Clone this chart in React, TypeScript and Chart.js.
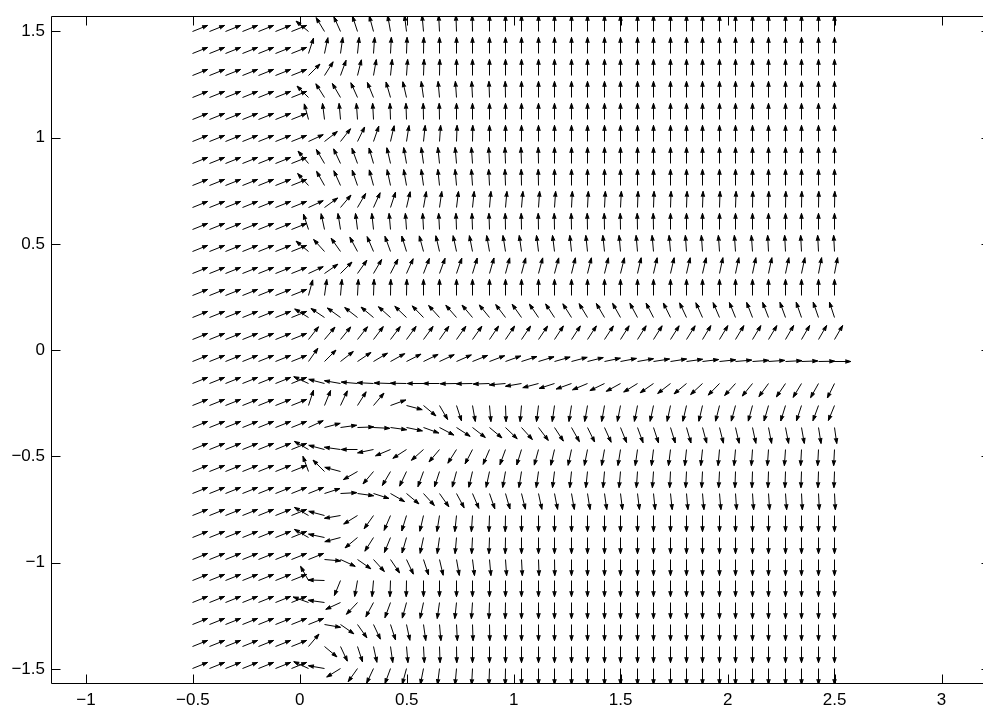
import { useEffect, useRef } from "react";
import { Chart, registerables } from "chart.js";

Chart.register(...registerables);

// Grid of arrow tails (x: 40 columns, y: 30 rows, bottom to top)
const X_GRID = [
  -0.5, -0.4231, -0.3462, -0.2692, -0.1923, -0.1154, -0.0385, 0.0385, 0.1154, 0.1923,
  0.2692, 0.3462, 0.4231, 0.5, 0.5769, 0.6538, 0.7308, 0.8077, 0.8846, 0.9615,
  1.0385, 1.1154, 1.1923, 1.2692, 1.3462, 1.4231, 1.5, 1.5769, 1.6538, 1.7308,
  1.8077, 1.8846, 1.9615, 2.0385, 2.1154, 2.1923, 2.2692, 2.3462, 2.4231, 2.5,
];
const Y_GRID = [
  -1.5, -1.3966, -1.2931, -1.1897, -1.0862, -0.9828, -0.8793, -0.7759, -0.6724, -0.569,
  -0.4655, -0.3621, -0.2586, -0.1552, -0.0517, 0.0517, 0.1552, 0.2586, 0.3621, 0.4655,
  0.569, 0.6724, 0.7759, 0.8793, 0.9828, 1.0862, 1.1897, 1.2931, 1.3966, 1.5,
];

// Arrow directions (degrees, counter-clockwise from +x), one row per Y_GRID value
const ANGLES: number[][] = [
  [22, 22, 22, 22, 22, 22, 22, 155, 170, 212, 235, 245, 250, 255, 259, 263, 265, 267, 268, 269, 270, 270, 270, 270, 270, 270, 270, 270, 270, 270, 270, 270, 270, 270, 270, 270, 270, 270, 270, 270],
  [22, 22, 22, 22, 22, 22, 22, 50, -40, -65, -72, -78, -82, -85, -87, -88, -89, -90, -90, -90, -90, -90, -90, -90, -90, -90, -90, -90, -90, -90, -90, -90, -90, -90, -90, -90, -90, -90, -90, -90],
  [22, 22, 22, 22, 22, 22, 22, 22, -10, -35, -55, -65, -72, -78, -82, -85, -87, -88, -89, -90, -90, -90, -90, -90, -90, -90, -90, -90, -90, -90, -90, -90, -90, -90, -90, -90, -90, -90, -90, -90],
  [22, 22, 22, 22, 22, 22, 22, 160, 172, 205, 227, 242, 250, 255, 258, 262, 264, 266, 268, 269, 270, 270, 270, 270, 270, 270, 270, 270, 270, 270, 270, 270, 270, 270, 270, 270, 270, 270, 270, 270],
  [22, 22, 22, 22, 22, 22, 22, 119, 178, 248, 260, 265, 268, 269, 270, 270, 270, 270, 270, 270, 270, 270, 270, 270, 270, 270, 270, 270, 270, 270, 270, 270, 270, 270, 270, 270, 270, 270, 270, 270],
  [22, 22, 22, 22, 22, 22, 22, 22, -5, -25, -35, -48, -56, -65, -72, -77, -80, -83, -85, -86, -87, -88, -89, -90, -90, -90, -90, -90, -90, -90, -90, -90, -90, -90, -90, -90, -90, -90, -90, -90],
  [22, 22, 22, 22, 22, 22, 22, 150, 168, 195, 220, 238, 248, 254, 258, 262, 265, 267, 268, 269, 270, 270, 270, 270, 270, 270, 270, 270, 270, 270, 270, 270, 270, 270, 270, 270, 270, 270, 270, 270],
  [22, 22, 22, 22, 22, 22, 22, 150, 165, 190, 212, 235, 247, 253, 257, 261, 264, 266, 268, 269, 270, 270, 270, 270, 270, 270, 270, 270, 270, 270, 270, 270, 270, 270, 270, 270, 270, 270, 270, 270],
  [22, 22, 22, 22, 22, 22, 22, 22, 18, 3, -8, -18, -30, -40, -48, -55, -62, -67, -71, -74, -76, -78, -79, -80, -81, -82, -83, -83, -84, -84, -85, -85, -85, -86, -86, -86, -86, -87, -87, -87],
  [22, 22, 22, 22, 22, 22, 22, 110, 135, 165, 210, 230, 240, 245, 250, 252, 255, 257, 258, 260, 261, 262, 263, 264, 264, 265, 265, 266, 266, 267, 267, 267, 267, 268, 268, 268, 268, 268, 268, 268],
  [22, 22, 22, 22, 22, 22, 22, 150, 165, 172, 180, 192, 203, 213, 222, 230, 238, 243, 247, 250, 253, 255, 257, 258, 259, 260, 261, 262, 263, 263, 264, 264, 265, 265, 266, 266, 266, 267, 267, 267],
  [22, 22, 22, 22, 22, 22, 22, 25, 15, 8, 2, -3, -8, -12, -20, -28, -33, -38, -40, -44, -48, -53, -57, -61, -64, -66, -68, -70, -72, -73, -74, -75, -76, -77, -78, -79, -79, -80, -81, -82],
  [22, 22, 22, 22, 22, 22, 22, 72, 68, 65, 58, 50, 20, -15, -40, -60, -72, -80, -85, -88, -95, -97, -98, -99, -100, -100, -101, -101, -102, -102, -103, -103, -104, -105, -105, -106, -107, -108, -110, -112],
  [22, 22, 22, 22, 22, 22, 22, 155, 165, 170, 175, 177, 178, 179, 180, 180, 181, 181, 182, 185, 190, 195, 198, 200, 203, 206, 209, 212, 215, 218, 220, 223, 226, 228, 231, 234, 236, 239, 241, 244],
  [22, 22, 22, 22, 22, 22, 22, 55, 45, 38, 34, 31, 29, 27, 26, 25, 24, 22, 21, 20, 18, 17, 16, 15, 14, 12, 11, 10, 9, 9, 8, 7, 6, 5, 4, 4, 3, 2, 1, 0],
  [22, 22, 22, 22, 22, 22, 22, 52, 50, 51, 52, 53, 53, 54, 54, 55, 55, 55, 56, 56, 56, 56, 57, 57, 57, 57, 58, 58, 58, 58, 58, 59, 59, 59, 59, 59, 60, 60, 60, 60],
  [22, 22, 22, 22, 22, 22, 22, 148, 146, 144, 142, 140, 138, 136, 134, 132, 131, 130, 129, 127, 125, 124, 123, 122, 121, 120, 119, 118, 117, 116, 115, 114, 113, 112, 111, 111, 110, 109, 109, 108],
  [22, 22, 22, 22, 22, 22, 22, 75, 82, 85, 87, 88, 89, 89, 90, 90, 90, 90, 90, 90, 90, 90, 90, 90, 90, 90, 90, 90, 90, 90, 90, 90, 90, 90, 90, 90, 90, 90, 90, 90],
  [22, 22, 22, 22, 22, 22, 22, 25, 35, 45, 55, 60, 63, 66, 69, 70, 71, 73, 74, 75, 75, 75, 75, 76, 76, 76, 76, 77, 77, 77, 77, 77, 78, 78, 78, 78, 78, 78, 79, 79],
  [22, 22, 22, 22, 22, 22, 22, 140, 132, 125, 118, 113, 110, 107, 105, 103, 102, 101, 100, 99, 98, 97, 97, 96, 96, 96, 95, 95, 95, 95, 94, 94, 94, 94, 94, 93, 93, 93, 93, 93],
  [22, 22, 22, 22, 22, 22, 22, 108, 102, 99, 97, 96, 95, 94, 93, 93, 92, 92, 92, 91, 91, 91, 91, 91, 91, 91, 91, 91, 91, 90, 90, 90, 90, 90, 90, 90, 90, 90, 90, 90],
  [22, 22, 22, 22, 22, 22, 22, 25, 36, 50, 60, 66, 72, 77, 80, 82, 83, 84, 85, 85, 85, 86, 86, 87, 87, 87, 87, 88, 88, 88, 88, 88, 88, 88, 89, 89, 89, 89, 89, 89],
  [22, 22, 22, 22, 22, 22, 22, 132, 119, 114, 109, 105, 102, 100, 98, 96, 95, 94, 93, 92, 91, 91, 90, 90, 90, 90, 90, 90, 90, 90, 90, 90, 90, 90, 90, 90, 90, 90, 90, 90],
  [22, 22, 22, 22, 22, 22, 22, 130, 120, 115, 110, 106, 103, 100, 98, 96, 95, 94, 93, 92, 92, 91, 90, 90, 90, 90, 90, 90, 90, 90, 90, 90, 90, 90, 90, 90, 90, 90, 90, 90],
  [22, 22, 22, 22, 22, 22, 22, 25, 38, 52, 64, 71, 77, 81, 84, 86, 88, 89, 90, 90, 90, 90, 90, 90, 90, 90, 90, 90, 90, 90, 90, 90, 90, 90, 90, 90, 90, 90, 90, 90],
  [22, 22, 22, 22, 22, 22, 22, 105, 97, 95, 94, 93, 92, 92, 91, 91, 90, 90, 90, 90, 90, 90, 90, 90, 90, 90, 90, 90, 90, 90, 90, 90, 90, 90, 90, 90, 90, 90, 90, 90],
  [22, 22, 22, 22, 22, 22, 22, 135, 122, 120, 114, 112, 106, 103, 98, 95, 94, 93, 92, 91, 90, 90, 90, 90, 90, 90, 90, 90, 90, 90, 90, 90, 90, 90, 90, 90, 90, 90, 90, 90],
  [22, 22, 22, 22, 22, 22, 22, 45, 58, 70, 76, 80, 84, 86, 88, 89, 90, 90, 90, 90, 90, 90, 90, 90, 90, 90, 90, 90, 90, 90, 90, 90, 90, 90, 90, 90, 90, 90, 90, 90],
  [22, 22, 22, 22, 22, 22, 22, 72, 78, 82, 84, 86, 87, 88, 89, 90, 90, 90, 90, 90, 90, 90, 90, 90, 90, 90, 90, 90, 90, 90, 90, 90, 90, 90, 90, 90, 90, 90, 90, 90],
  [22, 22, 22, 22, 22, 22, 22, 140, 121, 114, 108, 105, 100, 97, 95, 93, 92, 91, 90, 90, 90, 90, 90, 90, 90, 90, 90, 90, 90, 90, 90, 90, 90, 90, 90, 90, 90, 90, 90, 90],
];

const ARROW_LENGTH = 0.076; // data units

const X_TICKS = [-1, -0.5, 0, 0.5, 1, 1.5, 2, 2.5, 3];
const X_TICK_LABELS = ["\u22121", "\u22120.5", "0", "0.5", "1", "1.5", "2", "2.5", "3"];
const Y_TICKS = [-1.5, -1, -0.5, 0, 0.5, 1, 1.5];
const Y_TICK_LABELS = ["\u22121.5", "\u22121", "\u22120.5", "0", "0.5", "1", "1.5"];

const X_MIN = -1.1632;
const X_MAX = 3.2314;
const Y_MIN = -Math.PI / 2;
const Y_MAX = Math.PI / 2;

const FONT = { family: "'Liberation Sans', Arial, Helvetica, sans-serif", size: 17 };
const HEAD_ALPHA = 0.33;
const HEAD_BETA = 0.33;
const TICK_LEN = 9;

const quiverPlugin = {
  id: "quiver",
  afterDatasetsDraw(chart: any) {
    const ctx = chart.ctx as CanvasRenderingContext2D;
    const xs = chart.scales.x;
    const ys = chart.scales.y;
    const a = chart.chartArea;
    const px = (v: number) => xs.getPixelForValue(v);
    const py = (v: number) => ys.getPixelForValue(v);
    ctx.save();
    ctx.beginPath();
    ctx.rect(a.left, a.top, a.right - a.left, a.bottom - a.top);
    ctx.clip();
    ctx.strokeStyle = "#000";
    ctx.fillStyle = "#000";
    ctx.lineWidth = 1;
    ctx.lineCap = "butt";
    ctx.lineJoin = "miter";
    for (const p of chart.data.datasets[0].data as any[]) {
      const { x, y, u, v } = p;
      const tx = x + u;
      const ty = y + v;
      const h1x = tx - HEAD_ALPHA * (u + HEAD_BETA * v);
      const h1y = ty - HEAD_ALPHA * (v - HEAD_BETA * u);
      const h2x = tx - HEAD_ALPHA * (u - HEAD_BETA * v);
      const h2y = ty - HEAD_ALPHA * (v + HEAD_BETA * u);
      // snap each arrow so its tail sits on a pixel centre (crisp 1px lines)
      const X0 = px(x);
      const Y0 = py(y);
      const dx = Math.round(X0 - 0.5) + 0.5 - X0;
      const dy = Math.round(Y0 - 0.5) + 0.5 - Y0;
      const P = (vx: number, vy: number): [number, number] => [px(vx) + dx, py(vy) + dy];
      const [ax, ay] = P(x, y);
      const [bx, by] = P(tx, ty);
      const [c1x, c1y] = P(h1x, h1y);
      const [c2x, c2y] = P(h2x, h2y);
      ctx.beginPath();
      ctx.moveTo(ax, ay);
      ctx.lineTo(bx, by);
      ctx.stroke();
      ctx.beginPath();
      ctx.moveTo(c1x, c1y);
      ctx.lineTo(bx, by);
      ctx.lineTo(c2x, c2y);
      ctx.closePath();
      ctx.fill();
      ctx.beginPath();
      ctx.moveTo(c1x, c1y);
      ctx.lineTo(bx, by);
      ctx.lineTo(c2x, c2y);
      ctx.stroke();
    }
    ctx.restore();
  },
};

const boxPlugin = {
  id: "box",
  afterDraw(chart: any) {
    const ctx = chart.ctx as CanvasRenderingContext2D;
    const a = chart.chartArea;
    const xs = chart.scales.x;
    const ys = chart.scales.y;
    const l = Math.round(a.left) + 0.5;
    const r = Math.round(a.right) - 0.5;
    const t = Math.round(a.top) + 0.5;
    const b = Math.round(a.bottom) - 0.5;
    ctx.save();
    ctx.strokeStyle = "#000";
    ctx.lineWidth = 1;
    ctx.beginPath();
    ctx.rect(l, t, r - l, b - t);
    for (const v of X_TICKS) {
      const x = Math.round(xs.getPixelForValue(v)) + 0.5;
      ctx.moveTo(x, b);
      ctx.lineTo(x, b - TICK_LEN);
      ctx.moveTo(x, t);
      ctx.lineTo(x, t + TICK_LEN);
    }
    for (const v of Y_TICKS) {
      const y = Math.round(ys.getPixelForValue(v)) + 0.5;
      ctx.moveTo(l, y);
      ctx.lineTo(l + TICK_LEN, y);
      ctx.moveTo(r, y);
      ctx.lineTo(r - TICK_LEN, y);
    }
    ctx.stroke();
    ctx.restore();
  },
};

export default function App() {
  const canvasRef = useRef<HTMLCanvasElement | null>(null);

  useEffect(() => {
    const canvas = canvasRef.current;
    if (!canvas) return;
    const points: { x: number; y: number; u: number; v: number }[] = [];
    Y_GRID.forEach((y, j) => {
      X_GRID.forEach((x, k) => {
        const ang = (ANGLES[j][k] * Math.PI) / 180;
        points.push({ x, y, u: ARROW_LENGTH * Math.cos(ang), v: ARROW_LENGTH * Math.sin(ang) });
      });
    });

    const chart = new Chart(canvas, {
      type: "scatter",
      data: {
        datasets: [
          {
            data: points,
            pointRadius: 0,
            pointHoverRadius: 0,
            showLine: false,
          } as any,
        ],
      },
      options: {
        animation: false,
        responsive: false,
        maintainAspectRatio: false,
        events: [],
        layout: { padding: { top: 12, right: 1, left: 0, bottom: 0 } },
        plugins: { legend: { display: false }, tooltip: { enabled: false } },
        scales: {
          x: {
            type: "linear",
            position: "bottom",
            min: X_MIN,
            max: X_MAX,
            grid: { display: false, drawTicks: false },
            border: { display: false },
            ticks: {
              color: "#000",
              font: FONT,
              padding: 6,
              maxRotation: 0,
              autoSkip: false,
              callback: (val: any) => {
                const i = X_TICKS.findIndex((t) => Math.abs(t - Number(val)) < 1e-9);
                return i >= 0 ? X_TICK_LABELS[i] : "";
              },
            },
            afterBuildTicks: (s: any) => {
              s.ticks = X_TICKS.map((value) => ({ value }));
            },
            afterFit: (s: any) => {
              s.height = 27;
            },
          },
          y: {
            type: "linear",
            position: "left",
            min: Y_MIN,
            max: Y_MAX,
            grid: { display: false, drawTicks: false },
            border: { display: false },
            ticks: {
              color: "#000",
              font: FONT,
              padding: 6,
              autoSkip: false,
              callback: (val: any) => {
                const i = Y_TICKS.findIndex((t) => Math.abs(t - Number(val)) < 1e-9);
                return i >= 0 ? Y_TICK_LABELS[i] : "";
              },
            },
            afterBuildTicks: (s: any) => {
              s.ticks = Y_TICKS.map((value) => ({ value }));
            },
            afterFit: (s: any) => {
              s.width = 51;
            },
          },
        },
      },
      plugins: [quiverPlugin, boxPlugin],
    });
    return () => chart.destroy();
  }, []);

  return (
    <div
      style={{
        position: "fixed",
        left: 0,
        top: 0,
        width: 983,
        height: 711,
        overflow: "hidden",
        background: "#fff",
      }}
    >
      <canvas ref={canvasRef} width={992} height={711} style={{ display: "block" }} />
    </div>
  );
}
